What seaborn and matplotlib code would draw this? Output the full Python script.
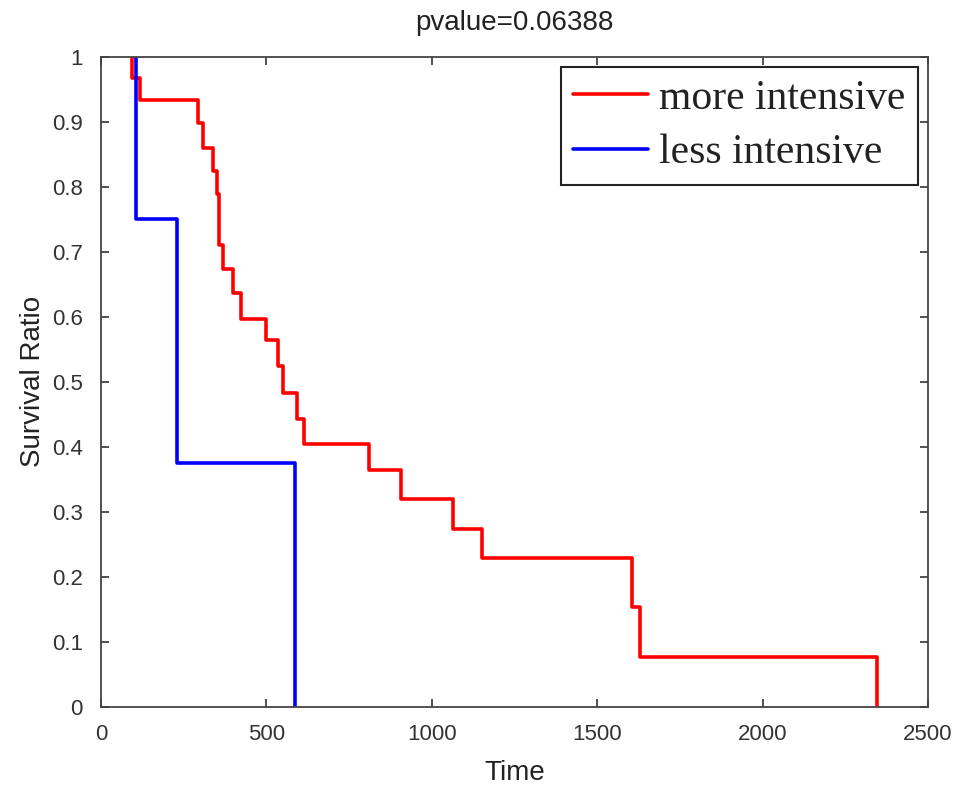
import pandas as pd
import matplotlib.pyplot as plt
import seaborn as sns

# ==============================================================
# data
# ==============================================================
groups = ['more intensive', 'less intensive']

red_time = [95, 119, 293, 308, 339, 350, 356, 369, 399, 424, 500, 535, 550,
            592, 613, 810, 907, 1065, 1153, 1605, 1630, 2347]
red_surv = [0.967, 0.933, 0.898, 0.859, 0.824, 0.788, 0.71, 0.674, 0.637,
            0.597, 0.564, 0.524, 0.483, 0.443, 0.405, 0.364, 0.319, 0.273,
            0.229, 0.153, 0.077, 0.0]

blue_time = [107, 229, 586]
blue_surv = [0.75, 0.375, 0.0]

x_ticks = [0, 500, 1000, 1500, 2000, 2500]
y_ticks = [0, 0.1, 0.2, 0.3, 0.4, 0.5, 0.6, 0.7, 0.8, 0.9, 1]
y_labels = ['0', '0.1', '0.2', '0.3', '0.4', '0.5', '0.6', '0.7', '0.8', '0.9', '1']

title = 'pvalue=0.06388'


def km_frame(times, surv, name):
    # curve starts at 1 at the first event time, then steps down
    return pd.DataFrame({'Time': [times[0]] + times,
                         'Survival': [1.0] + surv,
                         'group': name})


df = pd.concat([km_frame(red_time, red_surv, groups[0]),
                km_frame(blue_time, blue_surv, groups[1])], ignore_index=True)

# ==============================================================
# style
# ==============================================================
sns.set_style('ticks')
plt.rcParams['font.family'] = ['Liberation Sans Narrow', 'Liberation Sans', 'DejaVu Sans']
plt.rcParams['axes.edgecolor'] = '#444444'
plt.rcParams['text.color'] = '#222222'
plt.rcParams['axes.labelcolor'] = '#222222'
plt.rcParams['xtick.color'] = '#333333'
plt.rcParams['ytick.color'] = '#333333'

fig = plt.figure(figsize=(9.65, 7.85), dpi=100)
ax = fig.add_axes([0.1047, 0.0994, 0.857, 0.8286])

sns.lineplot(data=df, x='Time', y='Survival', hue='group', hue_order=groups,
             palette={groups[0]: '#ff0000', groups[1]: '#0000ff'},
             estimator=None, sort=False, drawstyle='steps-post',
             linewidth=2.6, ax=ax)

ax.set_xlim(0, 2500)
ax.set_ylim(0, 1)
ax.set_xticks(x_ticks)
ax.set_xticklabels([str(t) for t in x_ticks])
ax.set_yticks(y_ticks)
ax.set_yticklabels(y_labels)
ax.tick_params(direction='in', top=True, right=True, length=6, width=1.2,
               labelsize=16)
ax.tick_params(axis='x', pad=12)
ax.tick_params(axis='y', pad=13)
for s in ax.spines.values():
    s.set_linewidth(1.3)

ax.set_xlabel('Time', fontsize=20, labelpad=11)
ax.set_ylabel('Survival Ratio', fontsize=20, labelpad=4)
ax.set_title(title, fontsize=20, pad=19)

leg = ax.legend(loc='upper right', prop={'family': 'Liberation Serif', 'size': 30},
                frameon=True, fancybox=False, edgecolor='#222222', framealpha=1,
                handlelength=1.8, handletextpad=0.25, borderaxespad=0.25,
                borderpad=0.3, labelspacing=0.38)
leg.get_frame().set_linewidth(1.5)
for line in leg.get_lines():
    line.set_linewidth(2.6)

fig.savefig('out.png', dpi=100)
